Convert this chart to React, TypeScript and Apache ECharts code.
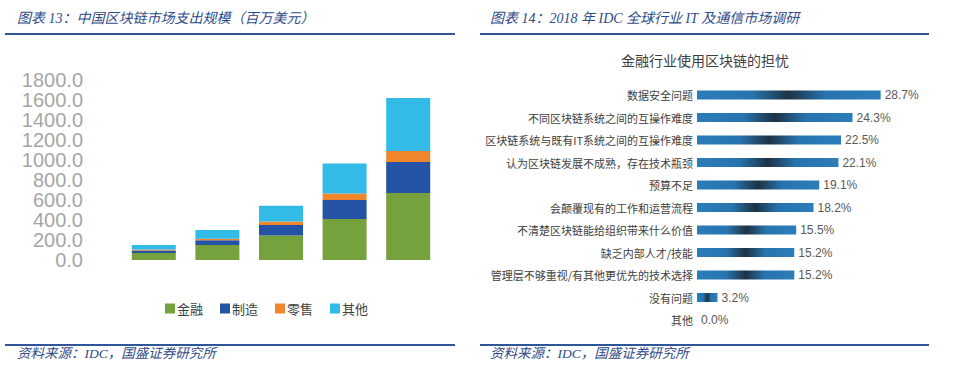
import React, { useEffect, useRef } from "react";
import * as echarts from "echarts";

const years = ["2017", "2018", "2019", "2020", "2021"];
const seriesNames = ["金融", "制造", "零售", "其他"];
const finance = [70, 150, 245, 410, 670];
const manufacturing = [25, 47, 105, 190, 310];
const retail = [10, 16, 36, 65, 110];
const others = [45, 87, 157, 300, 530];
const seriesColors = ["#76A23E", "#2452A4", "#F0862B", "#31BBE6"];

const concernLabels = [
  "数据安全问题",
  "不同区块链系统之间的互操作难度",
  "区块链系统与既有IT系统之间的互操作难度",
  "认为区块链发展不成熟，存在技术瓶颈",
  "预算不足",
  "会颠覆现有的工作和运营流程",
  "不清楚区块链能给组织带来什么价值",
  "缺乏内部人才/技能",
  "管理层不够重视/有其他更优先的技术选择",
  "没有问题",
  "其他",
];
const concernValues = [28.7, 24.3, 22.5, 22.1, 19.1, 18.2, 15.5, 15.2, 15.2, 3.2, 0.0];

const leftTitle = "图表 13：中国区块链市场支出规模（百万美元）";
const rightTitle = "图表 14：2018 年 IDC 全球行业 IT 及通信市场调研";
const sourceText = "资料来源：IDC，国盛证券研究所";
const rightChartTitle = "金融行业使用区块链的担忧";

const headFont = "'Liberation Serif', 'Noto Sans CJK SC', serif";
const cjk = "'Noto Sans CJK SC', sans-serif";
const narrow = "'Liberation Sans Narrow', 'Arial Narrow', 'Liberation Sans', sans-serif";
const headColor = "#2F4C8A";
const lineColor = "#2E5699";

export default function App() {
  const ref = useRef<HTMLDivElement>(null);
  useEffect(() => {
    if (!ref.current) return;
    const chart = echarts.init(ref.current, undefined, { renderer: "svg" });
    const stackData = [finance, manufacturing, retail, others];
    const barGrad = new echarts.graphic.LinearGradient(0, 0, 1, 0, [
      { offset: 0, color: "#2B7DBA" },
      { offset: 0.3, color: "#2774AE" },
      { offset: 0.5, color: "#1D3344" },
      { offset: 0.7, color: "#2774AE" },
      { offset: 1, color: "#2B7DBA" },
    ]);
    const headerEls = (x: number, text: string) => [
      {
        type: "text",
        left: x,
        top: 11,
        style: { text, font: `italic 14px ${headFont}`, fill: headColor },
      },
    ];
    chart.setOption({
      animation: false,
      backgroundColor: "#ffffff",
      legend: {
        data: seriesNames,
        left: 160,
        top: 297,
        itemWidth: 10,
        itemHeight: 10,
        itemGap: 17,
        icon: "rect",
        textStyle: { fontSize: 13, color: "#404040", fontFamily: cjk, padding: [0, 0, 0, -3] },
      },
      grid: [
        { left: 122, width: 318, top: 80, height: 180 },
        { left: 697, width: 192, top: 83.75, height: 247.5 },
      ],
      xAxis: [
        {
          gridIndex: 0,
          type: "category",
          data: years,
          axisLine: { show: false },
          axisTick: { show: false },
          axisLabel: { show: false },
        },
        {
          gridIndex: 1,
          type: "value",
          min: 0,
          max: 30,
          show: false,
          splitLine: { show: false },
        },
      ],
      yAxis: [
        {
          gridIndex: 0,
          type: "value",
          min: 0,
          max: 1800,
          interval: 200,
          axisLine: { show: false },
          axisTick: { show: false },
          splitLine: { show: false },
          axisLabel: {
            margin: 39,
            color: "#A6A6A6",
            fontSize: 20,
            fontFamily: narrow,
            formatter: (v: number) => v.toFixed(1),
          },
        },
        {
          gridIndex: 1,
          type: "category",
          data: concernLabels,
          inverse: true,
          axisLine: { show: false },
          axisTick: { show: false },
          axisLabel: { margin: 4, color: "#404040", fontSize: 11, fontFamily: cjk },
        },
      ],
      series: [
        ...seriesNames.map((name, i) => ({
          name,
          type: "bar",
          stack: "total",
          xAxisIndex: 0,
          yAxisIndex: 0,
          barWidth: 44,
          data: stackData[i],
          itemStyle: { color: seriesColors[i] },
        })),
        {
          name: "担忧",
          type: "bar",
          xAxisIndex: 1,
          yAxisIndex: 1,
          barWidth: 9,
          data: concernValues,
          itemStyle: { color: barGrad },
          label: {
            show: true,
            position: "right",
            distance: 4,
            color: "#595959",
            fontSize: 12,
            fontFamily: narrow,
            formatter: (p: any) => `${Number(p.value).toFixed(1)}%`,
          },
        },
      ],
      graphic: [
        ...headerEls(17, leftTitle),
        ...headerEls(490, rightTitle),
        { type: "line", shape: { x1: 5, y1: 34, x2: 455, y2: 34 }, style: { stroke: lineColor, lineWidth: 2 } },
        { type: "line", shape: { x1: 480, y1: 34, x2: 929, y2: 34 }, style: { stroke: lineColor, lineWidth: 2 } },
        { type: "line", shape: { x1: 5, y1: 345, x2: 455, y2: 345 }, style: { stroke: lineColor, lineWidth: 2 } },
        { type: "line", shape: { x1: 480, y1: 345, x2: 929, y2: 345 }, style: { stroke: lineColor, lineWidth: 2 } },
        {
          type: "text",
          left: 17,
          top: 347,
          style: { text: sourceText, font: `italic 13.5px ${headFont}`, fill: headColor },
        },
        {
          type: "text",
          left: 490,
          top: 347,
          style: { text: sourceText, font: `italic 13.5px ${headFont}`, fill: headColor },
        },
        {
          type: "text",
          left: 621,
          top: 53,
          style: { text: rightChartTitle, font: `14px ${cjk}`, fill: "#404040" },
        },
      ],
    });
    return () => chart.dispose();
  }, []);
  return (
    <div
      ref={ref}
      style={{ position: "absolute", left: 0, top: 0, width: 953, height: 372, background: "#fff" }}
    />
  );
}
